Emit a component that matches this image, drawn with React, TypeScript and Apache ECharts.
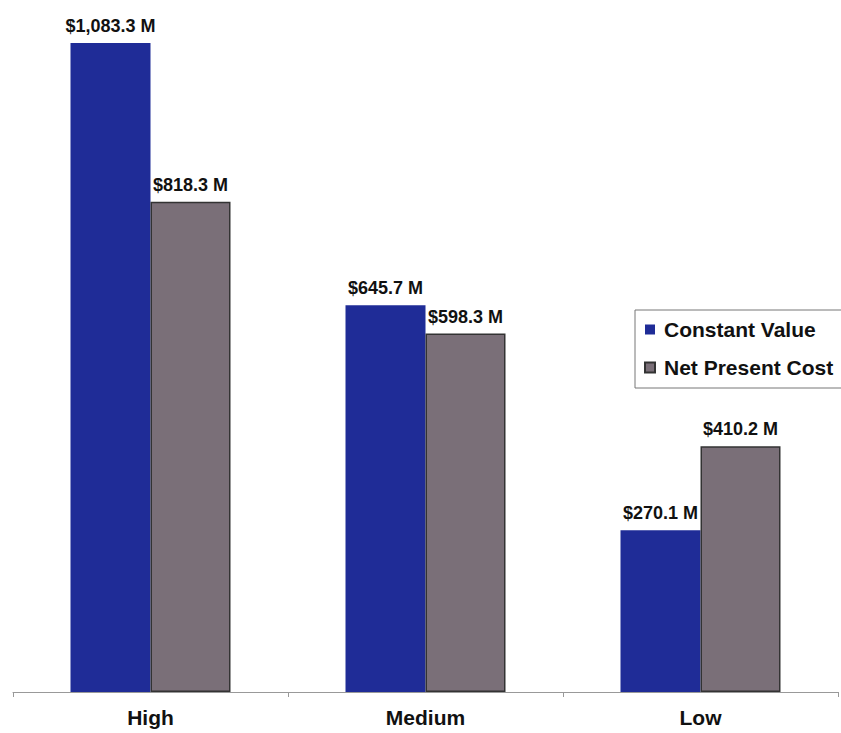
import React, { useEffect, useRef } from "react";
import * as echarts from "echarts";

const categories = ["High", "Medium", "Low"];
const constantValue = [1083.3, 645.7, 270.1];
const netPresentCost = [818.3, 598.3, 410.2];
const seriesNames = ["Constant Value", "Net Present Cost"];

const fmt = (v: number) =>
  "$" + v.toLocaleString("en-US", { minimumFractionDigits: 1, maximumFractionDigits: 1 }) + " M";

export default function App() {
  const ref = useRef<HTMLDivElement>(null);
  useEffect(() => {
    if (!ref.current) return;
    const chart = echarts.init(ref.current, null, { renderer: "svg" });
    const labelStyle = {
      show: true,
      position: "top" as const,
      distance: 8,
      fontFamily: "Liberation Sans, Arial, sans-serif",
      fontWeight: "bold" as const,
      fontSize: 18,
      color: "#111",
      formatter: (p: any) => fmt(p.value),
    };
    chart.setOption({
      animation: false,
      backgroundColor: "#ffffff",
      grid: { left: 13, right: 3, top: 33, bottom: 41, containLabel: false },
      legend: {
        orient: "vertical",
        left: 635,
        top: 310,
        width: 240,
        data: seriesNames,
        itemWidth: 10,
        itemHeight: 10,
        itemGap: 17,
        padding: [9, 40, 10, 9],
        borderColor: "#777",
        borderWidth: 1,
        backgroundColor: "#fff",
        icon: "rect",
        textStyle: {
          fontFamily: "Liberation Sans, Arial, sans-serif",
          fontWeight: "bold",
          fontSize: 21,
          color: "#111",
          padding: [0, 0, 0, 4],
        },
      },
      xAxis: {
        type: "category",
        data: categories,
        axisLine: { show: true, lineStyle: { color: "#999", width: 1 } },
        axisTick: { show: true, length: 5, lineStyle: { color: "#999" } },
        axisLabel: {
          margin: 15,
          fontFamily: "Liberation Sans, Arial, sans-serif",
          fontSize: 21,
          fontWeight: "bold",
          color: "#111",
        },
      },
      yAxis: {
        type: "value",
        min: 0,
        max: 1100,
        show: false,
        splitLine: { show: false },
      },
      series: [
        {
          name: seriesNames[0],
          type: "bar",
          data: constantValue,
          barWidth: 80,
          barGap: "0%",
          itemStyle: { color: "#1f2c97" },
          label: labelStyle,
        },
        {
          name: seriesNames[1],
          type: "bar",
          data: netPresentCost,
          barWidth: 80,
          barGap: "0%",
          itemStyle: { color: "#7a6f78", borderColor: "#333", borderWidth: 1.5 },
          label: labelStyle,
        },
      ],
    });
    return () => chart.dispose();
  }, []);
  return <div ref={ref} style={{ width: 841, height: 733, position: "absolute", left: 0, top: 0 }} />;
}
